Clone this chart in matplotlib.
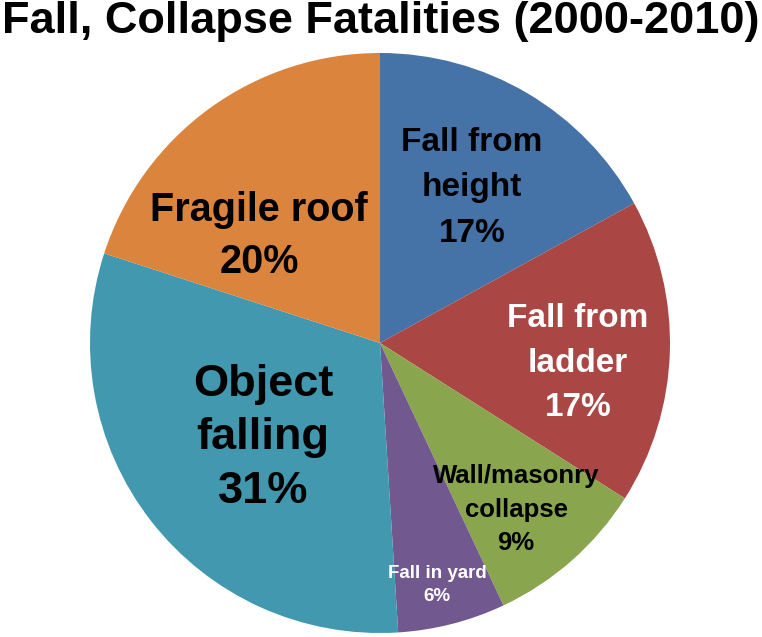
import matplotlib
matplotlib.use("Agg")
import matplotlib.pyplot as plt

# slices, clockwise from 12 o'clock
names = ["Fall from\nheight", "Fall from\nladder", "Wall/masonry\ncollapse",
         "Fall in yard", "Object\nfalling", "Fragile roof"]
values = [17, 17, 9, 6, 31, 20]
colors = ["#4572A7", "#AA4643", "#89A54E", "#71588F", "#4198AF", "#DB843D"]

# label styling (pixel centre, font size in pt, colour, line spacing)
label_xy = [(472, 188), (578, 363), (516, 510), (437, 585), (263, 438), (259, 236)]
label_size = [24, 24, 18.5, 13.5, 32.5, 28.5]
label_color = ["black", "white", "black", "white", "black", "black"]
label_ls = [1.62, 1.56, 1.5, 1.5, 1.38, 1.46]

W, H = 762, 637
plt.rcParams['font.family'] = ['Liberation Sans', 'DejaVu Sans']

fig = plt.figure(figsize=(W / 100, H / 100), dpi=100)
# pie disc: centre (380, 343), radius 290 px
cx, cy, r = 380, 343, 290
ax = fig.add_axes([(cx - r) / W, (H - cy - r) / H, 2 * r / W, 2 * r / H])
ax.pie(values, colors=colors, startangle=90, counterclock=False,
       wedgeprops=dict(linewidth=0))
ax.set_xlim(-1, 1)
ax.set_ylim(-1, 1)
ax.set_aspect('auto')
ax.axis('off')

for name, v, (x, y), fs, c, ls in zip(names, values, label_xy, label_size,
                                       label_color, label_ls):
    fig.text(x / W, 1 - y / H, f"{name}\n{v}%", ha='center', va='center',
             multialignment='center', fontsize=fs, fontweight='bold',
             color=c, linespacing=ls)

fig.text(381 / W, 1 - 21 / H, "Fall, Collapse Fatalities (2000-2010)",
         ha='center', va='center', fontsize=32.5, fontweight='bold')

fig.savefig("out.png", dpi=100)
